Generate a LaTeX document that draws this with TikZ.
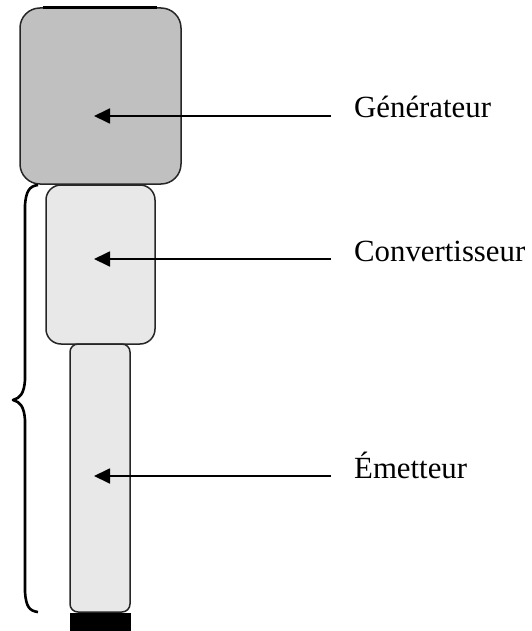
\documentclass[tikz,border=0pt]{standalone}
\usepackage{fontspec}
\setmainfont{Liberation Serif}
\usetikzlibrary{arrows.meta}
\definecolor{gen}{RGB}{192,192,192}
\definecolor{part}{RGB}{232,232,232}
\tikzset{
  block/.style={draw=black!85, line width=1.5pt, inner sep=0pt},
  pointer/.style={line width=1.8pt, -{Triangle[length=16pt,width=15pt]}},
  lbl/.style={anchor=base west, inner sep=0pt, font=\fontsize{30.8}{36}\selectfont},
}
\begin{document}
\begin{tikzpicture}[x=1pt,y=-1pt]
\useasboundingbox (0,0) rectangle (532,631);
% blocks
\node[block, fill=gen, rounded corners=20pt, minimum width=161pt, minimum height=176pt] (gen) at (100.5,96) {};
\node[block, fill=part, rounded corners=15pt, minimum width=109pt, minimum height=159pt] (conv) at (100.5,264.5) {};
\node[block, fill=part, rounded corners=8pt, minimum width=60pt, minimum height=268pt] (emit) at (100,478) {};
\node[fill=black, inner sep=0pt, minimum width=61pt, minimum height=18pt] (foot) at (100.5,621.5) {};
\draw[line width=3pt] (43,8) -- (157,8);
% brace
\draw[line width=2.6pt, line join=round]
  (38,185) .. controls (29,186) and (26,192) .. (25,205)
  -- (25,380) .. controls (24,394) and (20,398) .. (13,400)
  .. controls (20,402) and (24,406) .. (25,420)
  -- (25,592) .. controls (26,606) and (29,611) .. (38,612);
% pointers
\coordinate (gs) at (331,116); \coordinate (gt) at (94,116);
\coordinate (cs) at (331,259); \coordinate (ct) at (94,259);
\coordinate (es) at (331,476); \coordinate (et) at (94,476);
\draw[pointer] (gs) -- (gt);
\draw[pointer] (cs) -- (ct);
\draw[pointer] (es) -- (et);
% labels
\node[lbl] (lg) at (354,118) {Générateur};
\node[lbl] (lc) at (354,261) {Convertisseur};
\node[lbl] (le) at (354,478) {Émetteur};
\end{tikzpicture}
\end{document}
